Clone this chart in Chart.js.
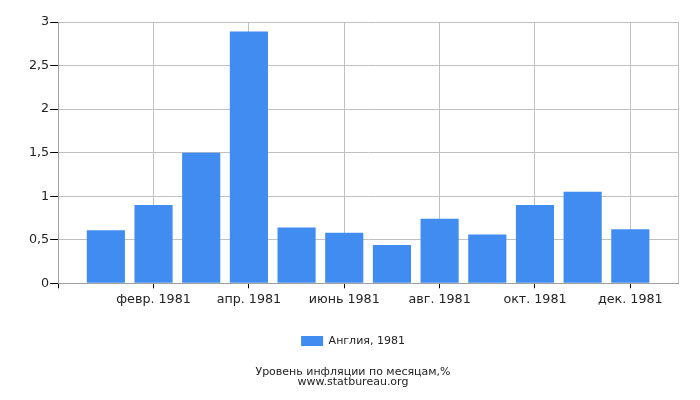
<!DOCTYPE html>
<html><head><meta charset="utf-8">
<script src="https://cdn.jsdelivr.net/npm/chart.js@4"></script>
<style>html,body{margin:0;padding:0;background:#fff}#wrap{width:700px;height:400px}</style>
</head><body><div id="wrap"><canvas id="c" width="700" height="400"></canvas></div>
<script>
const months = ['янв. 1981','февр. 1981','март 1981','апр. 1981','май 1981','июнь 1981','июль 1981','авг. 1981','сент. 1981','окт. 1981','нояб. 1981','дек. 1981'];
const values = [0.61, 0.90, 1.50, 2.89, 0.64, 0.58, 0.44, 0.74, 0.56, 0.90, 1.05, 0.62];
const seriesName = 'Англия, 1981';
const titleLines = ['Уровень инфляции по месяцам,%', 'www.statbureau.org'];
const yTicks = [0, 0.5, 1, 1.5, 2, 2.5, 3];

const axisLabels = [''].concat(months, ['']);
const axisData = [null].concat(values, [null]);
const last = axisLabels.length - 1;
const font = {family: 'DejaVu Sans', size: 12.7};

new Chart(document.getElementById('c'), {
  type: 'bar',
  data: {
    labels: axisLabels,
    datasets: [{
      label: seriesName,
      data: axisData,
      backgroundColor: '#418CF0',
      borderWidth: 0,
      categoryPercentage: 0.8,
      barPercentage: 1.0
    }]
  },
  options: {
    responsive: false,
    devicePixelRatio: 1,
    animation: false,
    layout: {padding: {left: 28, right: 22, top: 22, bottom: 13}},
    scales: {
      x: {
        offset: false,
        grid: {
          offset: false,
          color: ctx => (ctx.index % 2 === 0 || ctx.index === last) ? '#C0C0C0' : 'rgba(0,0,0,0)',
          tickColor: ctx => (ctx.index % 2 === 0 && ctx.index !== last) ? '#000' : 'rgba(0,0,0,0)',
          tickLength: 5,
          drawOnChartArea: true
        },
        border: {color: '#A0A0A0'},
        ticks: {
          autoSkip: false,
          maxRotation: 0,
          color: '#222',
          font: font,
          padding: 4,
          callback: (v, i) => (i % 2 === 0 && i > 0 && i < last) ? axisLabels[i] : ''
        }
      },
      y: {
        min: 0, max: 3,
        afterBuildTicks: s => { s.ticks = yTicks.map(v => ({value: v})); },
        grid: {color: '#C0C0C0', tickColor: '#000', tickLength: 8},
        border: {color: '#A0A0A0'},
        ticks: {
          color: '#222',
          font: font,
          padding: 1,
          callback: v => String(v).replace('.', ',')
        }
      }
    },
    plugins: {
      legend: {
        position: 'bottom',
        labels: {boxWidth: 22, boxHeight: 10, color: '#222', font: {family: 'DejaVu Sans', size: 11}, padding: 24}
      },
      title: {
        display: true,
        position: 'bottom',
        text: titleLines,
        color: '#222',
        font: {family: 'DejaVu Sans', size: 11, weight: 'normal', lineHeight: 0.93},
        padding: {top: 10, bottom: 0}
      },
      tooltip: {enabled: false}
    }
  }
});
</script></body></html>
